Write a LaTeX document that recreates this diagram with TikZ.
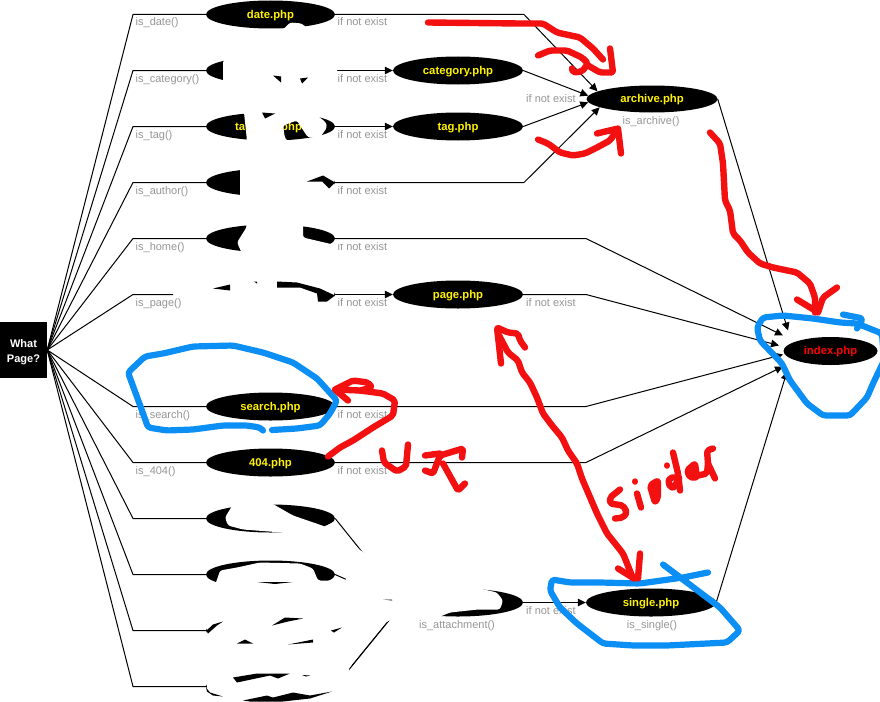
\documentclass[tikz,border=0pt]{standalone}
\usepackage{fontspec}
\setmainfont{Liberation Sans}
\usetikzlibrary{shapes.geometric,arrows.meta}
\definecolor{inkred}{RGB}{243,16,16}
\definecolor{inkblue}{RGB}{12,143,245}
\definecolor{lblgray}{RGB}{150,150,150}
\tikzset{
  phpnode/.style={ellipse,fill=black,inner sep=0pt,minimum width=129pt,minimum height=28pt,text=yellow,text height=7.5pt,text depth=0pt,font=\fontsize{11.3}{12}\selectfont\bfseries},
  phptext/.style={text=yellow,text height=7.5pt,text depth=0pt,font=\fontsize{11.3}{12}\selectfont\bfseries,inner sep=0pt},
  link/.style={draw=black,line width=1pt},
  arrowlink/.style={link,-{Triangle[length=8pt,width=7.5pt]}},
  lbl/.style={text=lblgray,text height=7pt,text depth=0pt,font=\fontsize{11}{12}\selectfont,inner sep=0pt},
  patch/.style={fill=white,rounded corners=2.5pt},
  frag/.style={fill=black},
  redink/.style={draw=inkred,line width=6.4pt,line cap=round,line join=round,rounded corners=2pt},
  blueink/.style={draw=inkblue,line width=6.2pt,line cap=round,line join=round,rounded corners=3pt}
}
\begin{document}
\begin{tikzpicture}[x=1pt,y=-1pt,shift={(0,0.5)}]
\clip (0,-0.5) rectangle (880,700.5);
\fill[white] (0,-0.5) rectangle (880,700.5);
% start box
\node[fill=black,text=white,minimum width=47pt,minimum height=56pt,inner sep=0pt,align=center,font=\fontsize{11}{14.5}\selectfont\bfseries] (what) at (23.5,349.5) {\rule{0pt}{12pt}What\\Page?};
% first column
\node[phpnode] (e1) at (270.5,14) {date.php};
\node[phpnode] (e2) at (270.5,70) {};
\node[phpnode] (e3) at (270.5,126) {};
\node[phpnode] (e4) at (270.5,182) {};
\node[phpnode] (e5) at (270.5,238) {};
\node[phpnode] (e6) at (270.5,294) {};
\node[phpnode] (e7) at (270.5,406) {search.php};
\node[phpnode] (e8) at (270.5,462) {404.php};
\node[phpnode] (e9) at (270.5,518) {};
\node[phpnode] (e10) at (270.5,574) {};
\node[phpnode] (e11) at (270.5,630) {};
\node[phpnode] (e12) at (270.5,686) {};
% partly erased names
\node[phptext,anchor=west] (nta) at (235,126) {ta};
\node[phptext,anchor=west] (nph) at (281,126) {php};
\node[phptext,anchor=west] (na) at (240,182) {a};
% second column
\node[phpnode,minimum width=130pt] (cat) at (458,70) {category.php};
\node[phpnode,minimum width=130pt] (tag) at (458,126) {tag.php};
\node[phpnode,minimum width=130pt] (page) at (458,294) {page.php};
\node[phpnode,minimum width=130pt] (att) at (458,602) {};
% third column
\node[phpnode,minimum width=131pt,minimum height=27pt] (arch) at (652,98.5) {archive.php};
\node[phpnode,minimum width=130pt] (single) at (651,602) {single.php};
\node[phpnode,minimum width=94pt,text=red] (index) at (830.5,350.5) {index.php};
% corners
\foreach \n/\y in {1/14,2/70,3/126,4/182,5/238,6/294,7/406,8/462,9/518,10/574,11/630,12/686}{
  \coordinate (c\n) at (133,\y);
  \draw[link] (what.east) -- (c\n) -- (e\n.west);
}
\coordinate (k1) at (524,14);
\coordinate (k4) at (524,182);
\coordinate (k5) at (586,238);
\coordinate (k6) at (586,294);
\coordinate (k7) at (586,406);
\coordinate (k8) at (586,462);
\coordinate (t1) at (788,330);
\coordinate (t2) at (783,335);
\coordinate (t3) at (779,345);
\coordinate (t4) at (783,354);
\coordinate (t5) at (783,366);
\coordinate (t6) at (787,371);
\draw[arrowlink] (e1.east) -- (k1) -- (arch.172);
\draw[arrowlink] (e2.east) -- (cat.west);
\draw[arrowlink] (e3.east) -- (tag.west);
\draw[arrowlink] (cat.east) -- (arch.177);
\draw[arrowlink] (tag.east) -- (arch.183);
\draw[arrowlink] (e4.east) -- (k4) -- (arch.189);
\draw[arrowlink] (arch.east) -- (t1);
\draw[arrowlink] (e5.east) -- (k5) -- (t2);
\draw[arrowlink] (e6.east) -- (page.west);
\draw[arrowlink] (page.east) -- (k6) -- (t3);
\draw[arrowlink] (e7.east) -- (k7) -- (t4);
\draw[arrowlink] (e8.east) -- (k8) -- (t5);
\draw[arrowlink] (single.east) -- (t6);
\draw[arrowlink] (att.east) -- (single.west);
\draw[link] (e9.east) -- (393,590);
\draw[link] (e10.east) -- (393,600);
\draw[link] (e11.east) -- (393,602);
\draw[link] (e12.east) -- (393,615);
% grey labels
\foreach \t/\y in {is\_date()/22,is\_category()/78,is\_tag()/134,is\_author()/190,is\_home()/246,is\_page()/302,is\_search()/414,is\_404()/470}
  \node[lbl,anchor=west] at (135.5,\y) {\t};
\foreach \y in {22,78,134,190,246,302,414,470}
  \node[lbl,anchor=west] at (337.5,\y) {if not exist};
\node[lbl,anchor=west] (x1) at (526,98) {if not exist};
\node[lbl,anchor=west] (x2) at (526,302) {if not exist};
\node[lbl,anchor=west] (x3) at (526,610) {if not exist};
\node[lbl] (l1) at (651,120) {is\_archive()};
\node[lbl] (l2) at (652,624) {is\_single()};
\node[lbl] (l3) at (457,624) {is\_attachment()};
% whiteout over the upper rows
\fill[patch] (283,29) -- (290,22) -- (302,23) -- (308,29) -- (337,50) -- (337,85) -- (325,105) -- (316,114) -- (326,122) -- (327,127) -- (320,137) -- (308,137) -- (302,128) -- (297,120) -- (283,125) -- (285,138) -- (290,142) -- (320,142) -- (334,150) -- (334,215) -- (303,224) -- (303,237) -- (333,244) -- (334,255) -- (243,255) -- (237,242) -- (247,226) -- (240,197) -- (240,170) -- (247,140) -- (244,112) -- (223,82) -- (223,60) -- (240,52) -- (270,40) -- cycle;
\fill[white] (337,239.5) rectangle (353,243.5);
% whiteout row 6
\fill[patch] (173,284) -- (173,296) -- (181,297) -- (181,311) -- (215,313) -- (334,311) -- (334,276) -- (200,276) -- cycle;
% whiteout lower rows
\fill[patch] (233,504) -- (225,517) -- (228,525) -- (243,529) -- (282,532) -- (310,540) -- (330,540) -- (345,534) -- (358,548) -- (395,575) -- (394,598) -- (340,560) -- (325,526) -- (293,515) -- (272,503) -- (255,500) -- cycle;
\fill[white] (336,520) -- (325,526) -- (345,534) -- (334,518) -- cycle;
\fill[patch] (216,582) -- (220,570) -- (237,567) -- (260,562) -- (300,563) -- (313,568) -- (318,580) -- (334,580) -- (344,582) -- (348,575) -- (385,588) -- (394,585) -- (440,586) -- (480,588) -- (497,592) -- (503,600) -- (500,609) -- (478,609) -- (450,612) -- (438,617) -- (420,617) -- (388,620) -- (350,664) -- (345,690) -- (334,701) -- (207,701) -- (207,600) -- cycle;
% what survives of the erased ellipses
\fill[frag] (273,75) -- (281,76) -- (281,82) -- cycle;
\fill[frag] (300,78) -- (308,77) -- (302,83) -- cycle;
\fill[frag] (262,112) -- (275,113) -- (265,118) -- cycle;
\fill[frag] (307,181) -- (323,175) -- (335,182) -- (329,188) -- (322,181) -- cycle;
\fill[frag] (277,281) -- (297,282) -- (320,288) -- (335,295) -- (327,301) -- (318,301) -- (317,293) -- (300,287) -- (277,287) -- cycle;
\fill[frag] (213,288) -- (230,284) -- (230,290) -- cycle;
\fill[frag] (254,281) -- (257,281) -- (257,283) -- cycle;
\fill[frag] (257,581.5) -- (293,581.5) -- (275,583.5) -- cycle;
\fill[frag] (206.5,630) -- (213,624) -- (223,621) -- (217,625) -- (208,633) -- cycle;
\fill[frag] (272,625) -- (285,617) -- (303,618) -- (288,621) -- cycle;
\fill[frag] (237,643) -- (245,639) -- (253,643) -- cycle;
\fill[frag] (288,644) -- (313,639) -- (313,642) -- cycle;
\fill[frag] (331,630) -- (342,627) -- (334,632) -- cycle;
\fill[frag] (383,599) -- (392,599) -- (392,600) -- cycle;
\draw[link,line width=0.8pt] (352,665) -- (387,622);
\fill[frag] (206,687) -- (210,692) -- (223,696) -- (213,695) -- (207,691) -- cycle;
\fill[frag] (233,677) -- (257,673) -- (290,673) -- (278,678) -- (270,675) -- (237,682) -- cycle;
\fill[frag] (302,674.5) -- (310,675) -- (306,676) -- cycle;
\fill[frag] (243,700) -- (267,695) -- (273,697) -- (293,692) -- (310,695) -- (332,691) -- (310,698) -- (283,701) -- (250,701) -- cycle;
% blue rings
\draw[blueink] (263,430) -- (260,427) -- (247,425) -- (223,425) -- (193,429) -- (167,430) -- (148,427) -- (142,410) -- (128,372) -- (145,356) -- (163,353) -- (193,346) -- (233,345) -- (263,352) -- (293,362) -- (317,378) -- (337,400) -- (330,413) -- (320,425) -- (297,428) -- (272,429.5);
\draw[blueink] (757,327) -- (763,317) -- (783,315) -- (813,318) -- (840,322) -- (857,323) -- (882,333) -- (884,360) -- (873,383) -- (867,397) -- (850,415) -- (823,415) -- (807,403) -- (790,380) -- (782,363) -- (760,340) -- cycle;
\draw[blueink] (843,314) -- (863,318) -- (857,328);
\draw[blueink] (708,572) -- (683,577) -- (640,583) -- (600,582) -- (570,582) -- (552,579) -- (550,590) -- (560,607) -- (577,623) -- (603,643) -- (633,645) -- (667,645) -- (727,642) -- (740,630) -- (720,607) -- (687,582) -- (663,564);
% red strokes
\draw[redink] (428,22) -- (520,23) -- (543,23) -- (557,32) -- (580,37) -- (593,48) -- (603,59);
\draw[redink] (538,55) -- (550,50) -- (567,50) -- (582,57) -- (588,63) -- (582,71) -- (573,72) -- (572,68);
\draw[redink] (588,65) -- (600,72) -- (613,72) -- (610,48);
\draw[redink] (538,139) -- (548,143) -- (560,152) -- (573,155) -- (585,153) -- (597,147) -- (610,140) -- (618,128) -- (597,133);
\draw[redink] (618,128) -- (621,153);
\draw[redink] (710,132) -- (720,143) -- (723,163) -- (725,200) -- (730,210) -- (733,233) -- (740,240) -- (748,252) -- (760,263) -- (773,267) -- (797,272) -- (810,283) -- (815,297) -- (815,312);
\draw[redink] (797,299) -- (815,310);
\draw[redink] (837,287) -- (823,297) -- (818,312);
\draw[redink] (328,456) -- (340,447) -- (353,440) -- (373,427) -- (393,415) -- (395,400) -- (383,393) -- (360,390) -- (335,389) -- (353,380) -- (368,382) -- (372,387) -- (360,390);
\draw[redink] (335,389) -- (348,400);
\draw[redink] (382,450) -- (384,462) -- (397,471) -- (406,466) -- (408,444);
\draw[redink] (425,470) -- (433,473) -- (440,455) -- (463,448) -- (462,457);
\draw[redink] (425,455) -- (440,453);
\draw[redink] (443,463) -- (458,490) -- (465,483);
\draw[redink] (501,363) -- (497,327) -- (508,332) -- (518,333) -- (520,340) -- (525,347);
\draw[redink] (498,333) -- (508,352) -- (518,360) -- (522,372) -- (530,382) -- (537,397) -- (543,413) -- (552,425) -- (562,437) -- (568,450) -- (577,463) -- (582,478) -- (597,513) -- (607,533) -- (623,553) -- (633,578);
\draw[redink] (618,568) -- (634,578);
\draw[redink] (640,553) -- (638,578);
% handwriting
\draw[redink] (620,489) -- (610,497) -- (610,503) -- (623,505) -- (627,512) -- (623,517) -- (615,518);
\draw[redink] (635,481) -- (635,481.1);
\draw[redink] (637,493) -- (641,507);
\draw[redink,fill=inkred] (650,485) -- (658,480) -- (658,497) -- (655,502) -- (652,492) -- cycle;
\draw[redink] (667,465) -- (667,465.1);
\draw[redink] (673,452) -- (678,473) -- (680,490);
\draw[redink] (670,477) -- (668,483) -- (673,488) -- (680,477) -- cycle;
\draw[redink,fill=inkred] (687,470) -- (695,463) -- (697,477) -- (690,477) -- cycle;
\draw[redink] (713,448) -- (707,450) -- (708,463) -- (707,473) -- (698,475);
\draw[redink] (708,463) -- (715,478);
\end{tikzpicture}
\end{document}
